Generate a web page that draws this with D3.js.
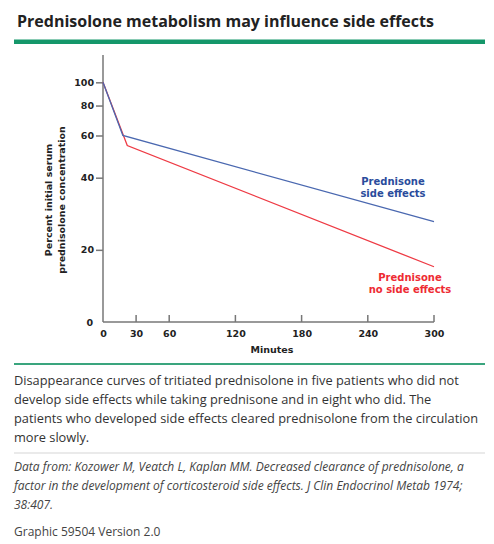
<!DOCTYPE html>
<html><head><meta charset="utf-8">
<script src="https://cdn.jsdelivr.net/npm/d3@7"></script>
<style>
body{margin:0;background:#fff;}
svg{display:block;}
</style></head>
<body>
<svg id="c" width="494" height="544"></svg>
<script>
const title = "Prednisolone metabolism may influence side effects";
const xTicks = [0, 30, 60, 120, 180, 240, 300];
const yTicks = [20, 40, 60, 80, 100];
const sideEffects = [{t:0, v:100}, {t:18, v:60}, {t:300, v:26.2}];
const noSideEffects = [{t:0, v:100}, {t:22, v:54.5}, {t:300, v:17}];
const captionLines = [
  "Disappearance curves of tritiated prednisolone in five patients who did not",
  "develop side effects while taking prednisone and in eight who did. The",
  "patients who developed side effects cleared prednisolone from the circulation",
  "more slowly."
];
const sourceLines = [
  "Data from: Kozower M, Veatch L, Kaplan MM. Decreased clearance of prednisolone, a",
  "factor in the development of corticosteroid side effects. J Clin Endocrinol Metab 1974;",
  "38:407."
];
const footer = "Graphic 59504 Version 2.0";

const svg = d3.select("#c");
const sans = "'Open Sans', sans-serif";
const vf = "'DejaVu Sans', Verdana, sans-serif";

svg.append("text").attr("x",17).attr("y",27).attr("font-family",sans).attr("font-weight",700)
  .attr("font-size",16).attr("fill","#222").text(title);
svg.append("rect").attr("x",14).attr("y",39.5).attr("width",471).attr("height",4.5).attr("fill","#15976a");

const x = d3.scaleLinear().domain([0,300]).range([103,434]);
const y = d3.scaleLog().domain([10,130]).range([322,55]);

const g = svg.append("g");
g.append("line").attr("x1",103).attr("x2",103).attr("y1",y(130)).attr("y2",y(10)).attr("stroke","#777").attr("stroke-width",1.5);
g.append("line").attr("x1",x(0)).attr("x2",x(300)).attr("y1",y(10)).attr("y2",y(10)).attr("stroke","#777").attr("stroke-width",1.5);

const yAxis = d3.axisLeft(y).tickValues(yTicks).tickFormat(d3.format("d")).tickSize(7).tickPadding(2);
const ya = g.append("g").attr("transform","translate(103,0)").call(yAxis);
ya.select(".domain").remove();
ya.selectAll(".tick line").attr("stroke","#777").attr("stroke-width",1.5);
ya.selectAll(".tick text").attr("font-family",vf).attr("font-weight",700).attr("font-size",9.5).attr("fill","#222");

const xAxis = d3.axisBottom(x).tickValues(xTicks).tickSize(0).tickPadding(8);
const xa = g.append("g").attr("transform",`translate(0,${y(10)})`).call(xAxis);
xa.select(".domain").remove();
xa.selectAll(".tick text").attr("font-family",vf).attr("font-weight",700).attr("font-size",9.5).attr("fill","#222");
g.selectAll(".xt").data(xTicks.filter(d=>d>0)).join("line")
  .attr("x1",d=>x(d)).attr("x2",d=>x(d)).attr("y1",y(10)).attr("y2",y(10)-7)
  .attr("stroke","#777").attr("stroke-width",1.5);
g.append("text").attr("x",93).attr("y",y(10)+4).attr("text-anchor","end").attr("font-family",vf)
  .attr("font-weight",700).attr("font-size",9.5).attr("fill","#222").text("0");

g.append("text").attr("x",272).attr("y",353).attr("text-anchor","middle").attr("font-family",vf)
  .attr("font-weight",700).attr("font-size",9.5).attr("fill","#222").text("Minutes");

const yt = g.append("text").attr("transform","translate(52,200) rotate(-90)").attr("text-anchor","middle")
  .attr("font-family",vf).attr("font-weight",700).attr("font-size",9.5).attr("fill","#222");
yt.append("tspan").attr("x",0).attr("dy",0).text("Percent initial serum");
yt.append("tspan").attr("x",0).attr("dy",12.5).text("prednisolone concentration");

const line = d3.line().x(d=>x(d.t)).y(d=>y(d.v));
g.append("path").datum(noSideEffects).attr("d",line).attr("fill","none").attr("stroke","#ee3a44").attr("stroke-width",1.3);
g.append("path").datum(sideEffects).attr("d",line).attr("fill","none").attr("stroke","#4a68b0").attr("stroke-width",1.3);

const lb = g.append("text").attr("text-anchor","middle").attr("font-family",vf).attr("font-weight",700)
  .attr("font-size",10).attr("fill","#2a4c9c");
lb.append("tspan").attr("x",393).attr("y",185).text("Prednisone");
lb.append("tspan").attr("x",393).attr("y",197).text("side effects");
const lr = g.append("text").attr("text-anchor","middle").attr("font-family",vf).attr("font-weight",700)
  .attr("font-size",10).attr("fill","#ee2b33");
lr.append("tspan").attr("x",410).attr("y",281).text("Prednisone");
lr.append("tspan").attr("x",410).attr("y",293).text("no side effects");

svg.append("rect").attr("x",14).attr("y",363).attr("width",471).attr("height",2).attr("fill","#3aa57e");

svg.selectAll(".cap").data(captionLines).join("text")
  .attr("x",14).attr("y",(d,i)=>385+i*19).attr("font-family",sans).attr("font-size",12.8).attr("fill","#333").text(d=>d);
svg.append("rect").attr("x",14).attr("y",452.5).attr("width",471).attr("height",1).attr("fill","#d5d5d5");
svg.selectAll(".src").data(sourceLines).join("text")
  .attr("x",14).attr("y",(d,i)=>471+i*19).attr("font-family",sans).attr("font-style","italic").attr("font-size",12).attr("fill","#444").text(d=>d);
svg.append("text").attr("x",14).attr("y",536).attr("font-family",sans).attr("font-size",12).attr("fill","#444").text(footer);
</script>
</body></html>
